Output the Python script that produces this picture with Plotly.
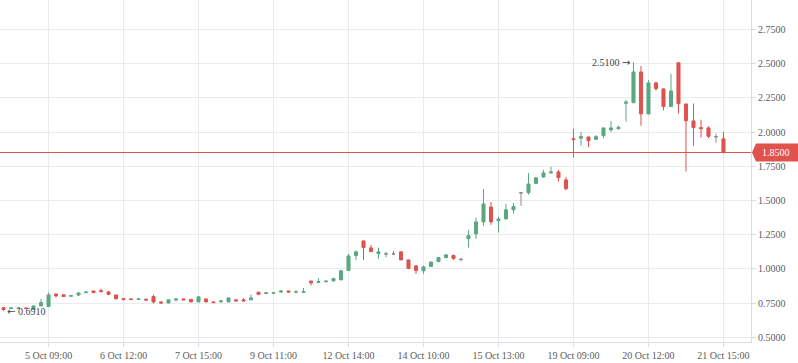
import plotly.graph_objects as go

# ---- data ----
open_ = [0.716, 0.710, 0.711, 0.714, 0.705, 0.729, 0.724, 0.816, 0.810, 0.800,
         0.809, 0.826, 0.838, 0.840, 0.831, 0.809, 0.782, 0.780, 0.776, 0.778,
         0.797, 0.758, 0.751, 0.773, 0.780, 0.775, 0.758, 0.780, 0.758, 0.758,
         0.758, 0.773, 0.773, 0.773, 0.829, 0.819, 0.821, 0.831, 0.838, 0.830,
         0.828, 0.911, 0.900, 0.905, 0.912, 0.919, 0.987, 1.097, 1.204, 1.153,
         1.111, 1.109, 1.109, 1.124, 1.065, 1.021, 0.985, 1.016, 1.053, 1.082,
         1.097, 1.070, 1.221, 1.255, 1.343, 1.452, 1.352, 1.365, 1.431, 1.555,
         1.557, 1.623, 1.672, 1.701, 1.708, 1.650, 1.950, 1.955, 1.964, 1.947,
         1.974, 2.016, 2.024, 2.210, 2.214, 2.439, 2.132, 2.359, 2.315, 2.186,
         2.506, 2.205, 2.081, 2.032, 2.030, 1.966, 1.950]
high = [0.721, 0.716, 0.716, 0.716, 0.731, 0.780, 0.826, 0.818, 0.811, 0.810,
        0.826, 0.835, 0.839, 0.855, 0.838, 0.810, 0.785, 0.782, 0.787, 0.780,
        0.811, 0.759, 0.774, 0.781, 0.781, 0.782, 0.796, 0.781, 0.759, 0.773,
        0.788, 0.774, 0.787, 0.811, 0.831, 0.831, 0.825, 0.839, 0.839, 0.845,
        0.860, 0.912, 0.930, 0.915, 0.935, 0.993, 1.109, 1.133, 1.205, 1.175,
        1.155, 1.124, 1.131, 1.125, 1.066, 1.028, 1.023, 1.051, 1.083, 1.103,
        1.104, 1.071, 1.284, 1.374, 1.584, 1.489, 1.382, 1.474, 1.480, 1.556,
        1.700, 1.672, 1.723, 1.745, 1.723, 1.672, 2.023, 1.999, 1.965, 1.977,
        2.030, 2.081, 2.048, 2.236, 2.510, 2.482, 2.381, 2.368, 2.318, 2.425,
        2.507, 2.206, 2.208, 2.090, 2.042, 1.988, 2.000]
low = [0.691, 0.708, 0.709, 0.709, 0.703, 0.727, 0.722, 0.790, 0.796, 0.799,
       0.800, 0.825, 0.825, 0.826, 0.807, 0.773, 0.770, 0.774, 0.775, 0.770,
       0.746, 0.743, 0.746, 0.760, 0.772, 0.757, 0.757, 0.757, 0.752, 0.757,
       0.757, 0.764, 0.764, 0.772, 0.807, 0.818, 0.820, 0.824, 0.824, 0.826,
       0.826, 0.877, 0.895, 0.904, 0.905, 0.918, 0.985, 1.065, 1.065, 1.125,
       1.072, 1.085, 1.100, 1.064, 1.001, 0.963, 0.963, 1.015, 1.048, 1.077,
       1.065, 1.053, 1.155, 1.219, 1.314, 1.321, 1.265, 1.360, 1.403, 1.460,
       1.542, 1.622, 1.665, 1.696, 1.637, 1.572, 1.813, 1.900, 1.889, 1.940,
       1.953, 2.001, 2.018, 2.076, 2.213, 2.046, 2.130, 2.303, 2.158, 2.185,
       2.134, 1.711, 1.900, 1.960, 1.955, 1.922, 1.842]
close = [0.703, 0.714, 0.714, 0.710, 0.729, 0.753, 0.809, 0.802, 0.797, 0.803,
         0.824, 0.830, 0.826, 0.835, 0.814, 0.782, 0.775, 0.776, 0.780, 0.772,
         0.758, 0.751, 0.773, 0.780, 0.773, 0.758, 0.795, 0.758, 0.753, 0.765,
         0.787, 0.765, 0.765, 0.787, 0.814, 0.824, 0.824, 0.838, 0.831, 0.830,
         0.833, 0.897, 0.906, 0.910, 0.928, 0.985, 1.094, 1.124, 1.155, 1.126,
         1.124, 1.109, 1.109, 1.065, 1.002, 0.987, 1.014, 1.050, 1.082, 1.102,
         1.075, 1.070, 1.243, 1.343, 1.474, 1.343, 1.364, 1.431, 1.455, 1.555,
         1.620, 1.665, 1.701, 1.708, 1.667, 1.586, 1.945, 1.966, 1.937, 1.966,
         2.030, 2.030, 2.034, 2.219, 2.439, 2.133, 2.359, 2.317, 2.186, 2.300,
         2.207, 2.083, 2.032, 2.025, 1.969, 1.966, 1.850]
tick_labels = ["5 Oct 09:00", "6 Oct 12:00", "7 Oct 15:00", "9 Oct 11:00",
               "12 Oct 14:00", "14 Oct 10:00", "15 Oct 13:00", "19 Oct 09:00",
               "20 Oct 12:00", "21 Oct 15:00"]
y_ticks = [0.5, 0.75, 1.0, 1.25, 1.5, 1.75, 2.0, 2.25, 2.5, 2.75]

GREEN = "#5aa880"
RED = "#e0524e"
GRAY = "#8a8a8a"
FONT = "Liberation Serif"
TXT = "#5c5c5c"
GRID = "#e8ebef"

n = len(close)
idx = list(range(n))
tick_pos = list(range(6, n, 10))[:len(tick_labels)]

fig = go.Figure()

def add_group(sel, color):
    fig.add_trace(go.Candlestick(
        x=[idx[i] for i in sel],
        open=[open_[i] for i in sel], high=[high[i] for i in sel],
        low=[low[i] for i in sel], close=[close[i] for i in sel],
        increasing=dict(line=dict(color=color, width=1), fillcolor=color),
        decreasing=dict(line=dict(color=color, width=1), fillcolor=color),
        whiskerwidth=0, showlegend=False, hoverinfo="skip"))

add_group([i for i in idx if close[i] > open_[i]], GREEN)
add_group([i for i in idx if close[i] < open_[i]], RED)
add_group([i for i in idx if close[i] == open_[i]], GRAY)

last = close[-1]
imax = max(idx, key=lambda i: high[i])
imin = min(idx, key=lambda i: low[i])

fig.add_shape(type="line", xref="paper", x0=0, x1=1, yref="y", y0=last, y1=last,
              line=dict(color=RED, width=1))
# last price tag with pointed tip
px = 1 / 751.0
h = 9 / 136.8
fig.add_shape(type="path", xref="paper", yref="y",
              path=(f"M {1+1*px} {last} L {1+5*px} {last+h} L {1+47*px} {last+h} "
                    f"L {1+47*px} {last-h} L {1+5*px} {last-h} Z"),
              fillcolor=RED, line=dict(width=0))
fig.add_annotation(xref="paper", x=1 + 9 * px, xanchor="left", yref="y", y=last,
                   text=f"{last:.4f}", showarrow=False,
                   font=dict(family=FONT, size=10, color="white"))

ARROW_R = "<span style='font-family:DejaVu Sans'>→</span>"
ARROW_L = "<span style='font-family:DejaVu Sans'>←</span>"
fig.add_annotation(x=imax, y=high[imax], xanchor="right", yanchor="middle",
                   text=f"{high[imax]:.4f} {ARROW_R}", showarrow=False, xshift=-1,
                   font=dict(family=FONT, size=10, color="#444"))
fig.add_annotation(x=imin, y=low[imin], xanchor="left", yanchor="middle",
                   text=f"{ARROW_L} {low[imin]:.4f}", showarrow=False, xshift=1,
                   font=dict(family=FONT, size=10, color="#444"))

fig.update_layout(
    width=798, height=363,
    margin=dict(l=0, r=47, t=0, b=21),
    paper_bgcolor="white", plot_bgcolor="white",
    boxgap=0.42,
    xaxis=dict(range=[-0.47, 99.67], tickvals=tick_pos, ticktext=tick_labels,
               showgrid=True, gridcolor=GRID, gridwidth=1, zeroline=False,
               showline=True, linecolor="#d8dbdf", linewidth=1,
               ticks="outside", ticklen=4, tickcolor="#d8dbdf",
               tickfont=dict(family=FONT, size=10, color=TXT),
               rangeslider=dict(visible=False), fixedrange=True),
    yaxis=dict(side="right", range=[0.465, 2.965], tickvals=y_ticks,
               tickformat=".4f", showgrid=True, gridcolor=GRID, gridwidth=1,
               zeroline=False, showline=True, linecolor="#d8dbdf", linewidth=1,
               ticks="outside", ticklen=4, tickcolor="#d8dbdf",
               tickfont=dict(family=FONT, size=10, color=TXT), fixedrange=True),
)

fig.write_html("out.html", config={"displayModeBar": False},
               post_script="document.body.style.margin='0';document.body.style.overflow='hidden';")
